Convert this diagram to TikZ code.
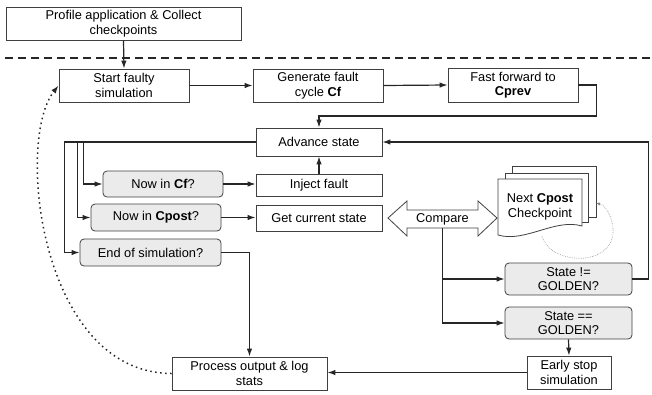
\documentclass[tikz,border=0pt]{standalone}
\usepackage{fontspec}
\setmainfont{Liberation Sans}
\usetikzlibrary{arrows.meta,calc}
\begin{document}
\begin{tikzpicture}[x=1pt,y=-1pt,
 box/.style={draw=black!75, line width=0.8pt, fill=white, align=center, inner sep=0pt, font=\fontsize{12.8}{14.5}\selectfont},
 dec/.style={box, rounded corners=4pt, fill=black!8},
 arr/.style={draw=black!85, line width=1.2pt, -{Latex[length=8pt,width=5.5pt]}},
 docst/.style={draw=black!75, line width=0.8pt, fill=white},
 loopst/.style={draw=black!50, line width=0.6pt, dash pattern=on 0.6pt off 1.2pt, -{Latex[length=4pt,width=3pt]}},
 backst/.style={draw=black!85, line width=1.5pt, dash pattern=on 1.5pt off 3.5pt, -{Latex[length=8pt,width=5.5pt]}}
]
\useasboundingbox (0,0) rectangle (652,394);

% separator
\draw[black!85, line width=1.1pt, dash pattern=on 8pt off 5pt] (5,58) -- (652,58);

% nodes
\node[box, minimum width=235, minimum height=33] (prof) at (123.5,23.5) {Profile application \& Collect\\checkpoints};
\node[box, minimum width=130, minimum height=33] (start) at (124,85.5) {Start faulty\\simulation};
\node[box, minimum width=130, minimum height=33] (gen) at (318,85.5) {Generate fault\\cycle \textbf{Cf}};
\node[box, minimum width=130, minimum height=34] (ff) at (513,85) {Fast forward to\\\textbf{Cprev}};
\node[box, minimum width=126, minimum height=28] (adv) at (319,142) {Advance state};
\node[box, minimum width=126, minimum height=22] (inj) at (319,185) {Inject fault};
\node[box, minimum width=126, minimum height=26] (get) at (319,218) {Get current state};
\node[dec, minimum width=120, minimum height=26] (nowcf) at (163,184) {Now in \textbf{Cf}?};
\node[dec, minimum width=130, minimum height=27] (nowcp) at (156,217.5) {Now in \textbf{Cpost}?};
\node[dec, minimum width=141, minimum height=27] (endsim) at (150.5,252.5) {End of simulation?};
\node[dec, minimum width=127, minimum height=32] (sne) at (568.5,279) {State !=\\GOLDEN?};
\node[dec, minimum width=127, minimum height=32] (seq) at (568.5,323) {State ==\\GOLDEN?};
\node[box, minimum width=84, minimum height=33] (early) at (569,372.5) {Early stop\\simulation};
\node[box, minimum width=155, minimum height=33] (proc) at (249.5,373.5) {Process output \& log\\stats};

% compare double arrow
\draw[docst] (388,218) -- (407,201) -- (407,210) -- (478,210) -- (478,201) -- (497,218)
  -- (478,236) -- (478,228) -- (407,228) -- (407,236) -- cycle;
\node[box, draw=none, fill=none, minimum width=71, minimum height=18] (comp) at (442.5,219) {Compare};

% document stack
\draw[docst] (512,166) rectangle (596,217);
\draw[docst] (505,173) rectangle (588,222);
\draw[docst] (498,179) -- (582,179) -- (582,226) .. controls (555,218) and (525,243) .. (498,235) -- cycle;
\node[box, draw=none, fill=none, minimum width=84, minimum height=56] (doc) at (540,207) {Next \textbf{Cpost}\\Checkpoint};
\coordinate (loopA) at (542,236);
\coordinate (loopB) at (613,228);
\coordinate (loopC) at (596,203);
\draw[loopst] (loopA) .. controls (550,266) and (616,268) .. (loopB) .. controls (611,212) and (604,205) .. (loopC);

% connectors
\draw[arr] (prof.south) -- (start.north);
\draw[arr] (start.east) -- (gen.west);
\draw[arr] (gen.east) -- (ff.west);
\draw[arr] (ff.east) -- ++(18,0) -- ++(0,31) -| (adv.north);
\draw[arr] (inj.north) -- (adv.south);
\draw[arr] (adv.west) -- ++(-172,0) |- (nowcf.west);
\draw[arr] (adv.west) -- ++(-178,0) |- (nowcp.west);
\draw[arr] (adv.west) -- ++(-191,0) |- (endsim.west);
\draw[arr] (nowcf.east) -- (nowcf.east -| inj.west);
\draw[arr] (nowcp.east) -- (nowcp.east -| get.west);
\draw[arr] (endsim.east) -| (proc.north);
\draw[arr] (comp.south) |- (sne.west);
\draw[arr] (comp.south) |- (seq.west);
\draw[arr] (sne.east) -- ++(16,0) |- (adv.east);
\draw[arr] (seq.south) -- (early.north);
\draw[arr] (early.west) -- (early.west -| proc.east);
\draw[backst] (proc.west) .. controls (40,373) and (15,140) .. (start.west);
\end{tikzpicture}
\end{document}
